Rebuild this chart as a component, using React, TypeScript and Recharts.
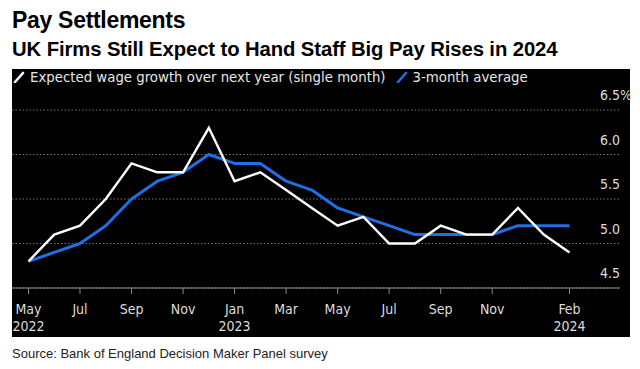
import { LineChart, Line, XAxis, YAxis, CartesianGrid, Legend } from "recharts";

const months = [
  "May 2022", "Jun 2022", "Jul 2022", "Aug 2022", "Sep 2022", "Oct 2022",
  "Nov 2022", "Dec 2022", "Jan 2023", "Feb 2023", "Mar 2023", "Apr 2023",
  "May 2023", "Jun 2023", "Jul 2023", "Aug 2023", "Sep 2023", "Oct 2023",
  "Nov 2023", "Dec 2023", "Jan 2024", "Feb 2024",
];
const singleMonth = [
  4.8, 5.1, 5.2, 5.5, 5.9, 5.8, 5.8, 6.3, 5.7, 5.8, 5.6, 5.4,
  5.2, 5.3, 5.0, 5.0, 5.2, 5.1, 5.1, 5.4, 5.1, 4.9,
];
const threeMonthAvg = [
  4.8, 4.9, 5.0, 5.2, 5.5, 5.7, 5.8, 6.0, 5.9, 5.9, 5.7, 5.6,
  5.4, 5.3, 5.2, 5.1, 5.1, 5.1, 5.1, 5.2, 5.2, 5.2,
];
const xTicks = [0, 2, 4, 6, 8, 10, 12, 14, 16, 18, 21];
const xTickMonth = ["May", "Jul", "Sep", "Nov", "Jan", "Mar", "May", "Jul", "Sep", "Nov", "Feb"];
const xTickYear = ["2022", "", "", "", "2023", "", "", "", "", "", "2024"];
const yTicks = [4.5, 5, 5.5, 6, 6.5];

const SINGLE_NAME = "Expected wage growth over next year (single month)";
const AVG_NAME = "3-month average";
const WHITE = "#ffffff";
const BLUE = "#1f6fe6";
const CHART_FONT = "'DejaVu Sans Condensed', 'Liberation Sans Narrow', 'DejaVu Sans', sans-serif";

const data = months.map((m, i) => ({
  i,
  month: m,
  single: singleMonth[i],
  avg: threeMonthAvg[i],
}));

function XTick({ x, y, payload }: any) {
  const k = xTicks.indexOf(payload.value);
  return (
    <text x={x} y={y} textAnchor="middle" fill="#dcdcdc" fontSize={14} fontFamily={CHART_FONT}>
      <tspan x={x} dy={18}>{xTickMonth[k]}</tspan>
      <tspan x={x} dy={17}>{xTickYear[k]}</tspan>
    </text>
  );
}

function YTick({ y, payload }: any) {
  const label = payload.value.toFixed(1) + (payload.value === 6.5 ? "%" : "");
  return (
    <text x={600} y={y - 10} textAnchor="start" fill="#dcdcdc" fontSize={14} fontFamily={CHART_FONT}>
      {label}
    </text>
  );
}

function Slash({ color }: { color: string }) {
  return (
    <svg width={12} height={12} style={{ marginRight: 5 }}>
      <line x1={2} y1={11} x2={10} y2={2} stroke={color} strokeWidth={2.6} strokeLinecap="round" />
    </svg>
  );
}

function LegendContent() {
  const items = [
    { name: SINGLE_NAME, color: WHITE },
    { name: AVG_NAME, color: BLUE },
  ];
  return (
    <div style={{ display: "flex", alignItems: "center", fontFamily: CHART_FONT, fontSize: 14.8, color: "#e6e6e6", whiteSpace: "nowrap" }}>
      {items.map((it) => (
        <span key={it.name} style={{ display: "flex", alignItems: "center", marginRight: 10 }}>
          <Slash color={it.color} />
          {it.name}
        </span>
      ))}
    </div>
  );
}

export default function App() {
  return (
    <div style={{ position: "absolute", left: 0, top: 0, width: 640, height: 369, background: "#fff", overflow: "hidden" }}>
      <div style={{ position: "absolute", left: 12, top: 7, fontFamily: "'Liberation Sans', Arial, sans-serif", fontWeight: 700, fontSize: 23, letterSpacing: -0.3, color: "#000", whiteSpace: "nowrap" }}>
        Pay Settlements
      </div>
      <div style={{ position: "absolute", left: 12, top: 38, fontFamily: "'Liberation Sans', Arial, sans-serif", fontWeight: 700, fontSize: 20.3, letterSpacing: -0.1, color: "#000", whiteSpace: "nowrap" }}>
        UK Firms Still Expect to Hand Staff Big Pay Rises in 2024
      </div>
      <div style={{ position: "absolute", left: 12, top: 69, width: 618, height: 268, background: "#000" }} />
      <div style={{ position: "absolute", left: 0, top: 0 }}>
        <LineChart width={640} height={369} data={data} margin={{ top: 110, right: 0, bottom: 41, left: 12 }}>
          <CartesianGrid horizontal vertical={false} stroke="#777" strokeDasharray="1.5 2" />
          <XAxis
            dataKey="i"
            type="number"
            domain={[-0.64, 22.96]}
            ticks={xTicks}
            interval={0}
            height={40}
            stroke="#8a8a8a"
            tickSize={6}
            tick={<XTick />}
          />
          <YAxis
            orientation="right"
            width={20}
            domain={[4.5, 6.5]}
            ticks={yTicks}
            interval={0}
            axisLine={false}
            tickLine={false}
            tick={<YTick />}
          />
          <Legend
            verticalAlign="middle"
            align="center"
            content={<LegendContent />}
            wrapperStyle={{ position: "absolute", left: 13, top: 68, width: 610, height: 20 }}
          />
          <Line name={AVG_NAME} dataKey="avg" stroke={BLUE} strokeWidth={3} dot={false} isAnimationActive={false} strokeLinejoin="round" />
          <Line name={SINGLE_NAME} dataKey="single" stroke={WHITE} strokeWidth={2.4} dot={false} isAnimationActive={false} strokeLinejoin="miter" />
        </LineChart>
      </div>
      <div style={{ position: "absolute", left: 12, top: 346, fontFamily: "'Liberation Sans', Arial, sans-serif", fontSize: 13, color: "#222", whiteSpace: "nowrap" }}>
        Source: Bank of England Decision Maker Panel survey
      </div>
    </div>
  );
}
